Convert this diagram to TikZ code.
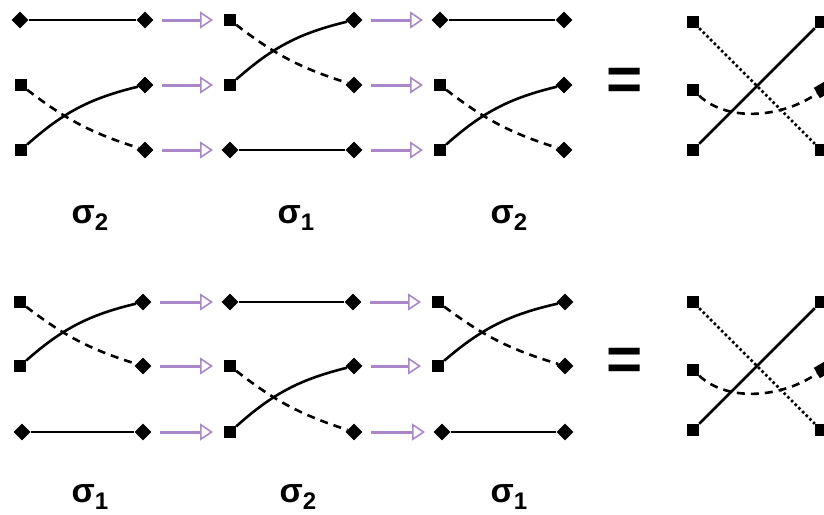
\documentclass[tikz,border=0pt]{standalone}
\usepackage{fontspec}
\setmainfont{Liberation Sans}
\usetikzlibrary{arrows.meta, shapes.geometric}
\definecolor{lilac}{RGB}{170,135,200}

\newcommand{\sig}[1]{\bfseries\fontsize{34}{34}\selectfont σ\raisebox{-7pt}{\fontsize{24}{24}\selectfont #1}}

\begin{document}
\begin{tikzpicture}[x=1pt, y=-1pt,
  sq/.style={rectangle, fill=black, minimum size=12pt, inner sep=0pt},
  dm/.style={diamond, fill=black, minimum size=17pt, inner sep=0pt},
  strand/.style={line width=2.6pt},
  dsh/.style={strand, dash pattern=on 8pt off 6pt},
  dots/.style={line width=2.8pt, dash pattern=on 2.6pt off 2.6pt},
  imp/.style={draw=lilac, line width=3pt,
    -{Triangle[open, length=13pt, width=17pt, line width=1.6pt]},
    shorten <=17pt, shorten >=17pt}]
  \useasboundingbox (0,0) rectangle (824,514);

  % top row: sigma_2 sigma_1 sigma_2
  \node[dm] (A-l1) at (20,20) {};  \node[dm] (A-r1) at (145,20) {};
  \node[sq] (A-l2) at (21,85) {};  \node[dm] (A-r2) at (145,85) {};
  \node[sq] (A-l3) at (21,150) {}; \node[dm] (A-r3) at (145,150) {};
  \draw[strand] (A-l1) -- (A-r1);
  \draw[strand] (A-l3) to[bend left=14] (A-r2);
  \draw[dsh] (A-l2) to[bend right=10] (A-r3);

  \node[sq] (B-l1) at (230,20) {};  \node[dm] (B-r1) at (354,20) {};
  \node[sq] (B-l2) at (230,85) {};  \node[dm] (B-r2) at (354,85) {};
  \node[dm] (B-l3) at (230,150) {}; \node[dm] (B-r3) at (354,150) {};
  \draw[strand] (B-l3) -- (B-r3);
  \draw[strand] (B-l2) to[bend left=14] (B-r1);
  \draw[dsh] (B-l1) to[bend right=10] (B-r2);

  \node[dm] (C-l1) at (440,20) {};  \node[dm] (C-r1) at (564,20) {};
  \node[sq] (C-l2) at (440,85) {};  \node[dm] (C-r2) at (564,85) {};
  \node[sq] (C-l3) at (440,150) {}; \node[dm] (C-r3) at (564,150) {};
  \draw[strand] (C-l1) -- (C-r1);
  \draw[strand] (C-l3) to[bend left=14] (C-r2);
  \draw[dsh] (C-l2) to[bend right=10] (C-r3);

  \node[font=\bfseries\fontsize{62}{62}\selectfont] (eq-top) at (625,84) {=};
  \node[sq] (D-l1) at (693,22) {};  \node[sq] (D-r1) at (821,22) {};
  \node[sq] (D-l2) at (693,90) {};  \node[sq, rotate=30] (D-r2) at (822,90) {};
  \node[sq] (D-l3) at (693,150) {}; \node[sq] (D-r3) at (821,150) {};
  \draw[strand] (D-l3) -- (D-r1);
  \draw[dots] (D-l1) -- (D-r3);
  \draw[dsh] (D-l2) .. controls (730,124) and (785,116) .. (D-r2);

  % bottom row: sigma_1 sigma_2 sigma_1
  \node[sq] (E-l1) at (20,302) {};  \node[dm] (E-r1) at (143,302) {};
  \node[sq] (E-l2) at (20,366) {};  \node[dm] (E-r2) at (143,366) {};
  \node[dm] (E-l3) at (22,432) {};  \node[dm] (E-r3) at (143,432) {};
  \draw[strand] (E-l3) -- (E-r3);
  \draw[strand] (E-l2) to[bend left=14] (E-r1);
  \draw[dsh] (E-l1) to[bend right=10] (E-r2);

  \node[dm] (F-l1) at (230,302) {}; \node[dm] (F-r1) at (353,302) {};
  \node[sq] (F-l2) at (230,366) {}; \node[dm] (F-r2) at (354,366) {};
  \node[sq] (F-l3) at (230,432) {}; \node[dm] (F-r3) at (354,432) {};
  \draw[strand] (F-l1) -- (F-r1);
  \draw[strand] (F-l3) to[bend left=14] (F-r2);
  \draw[dsh] (F-l2) to[bend right=10] (F-r3);

  \node[sq] (G-l1) at (438,302) {}; \node[dm] (G-r1) at (565,302) {};
  \node[sq] (G-l2) at (438,366) {}; \node[dm] (G-r2) at (565,366) {};
  \node[dm] (G-l3) at (442,432) {}; \node[dm] (G-r3) at (565,432) {};
  \draw[strand] (G-l3) -- (G-r3);
  \draw[strand] (G-l2) to[bend left=14] (G-r1);
  \draw[dsh] (G-l1) to[bend right=10] (G-r2);

  \node[font=\bfseries\fontsize{62}{62}\selectfont] (eq-bot) at (625,364) {=};
  \node[sq] (H-l1) at (693,302) {}; \node[sq] (H-r1) at (821,302) {};
  \node[sq] (H-l2) at (693,370) {}; \node[sq, rotate=30] (H-r2) at (822,370) {};
  \node[sq] (H-l3) at (693,430) {}; \node[sq] (H-r3) at (821,430) {};
  \draw[strand] (H-l3) -- (H-r1);
  \draw[dots] (H-l1) -- (H-r3);
  \draw[dsh] (H-l2) .. controls (730,404) and (785,396) .. (H-r2);

  % arrows between the steps
  \foreach \p/\q in {A/B, B/C, E/F, F/G}
    \foreach \i in {1,2,3}
      \draw[imp] (\p-r\i.center) -- (\q-l\i.center);

  % labels
  \node (lab-A) at (90,218) {\sig{2}};
  \node (lab-B) at (296,218) {\sig{1}};
  \node (lab-C) at (509,218) {\sig{2}};
  \node (lab-E) at (90,497) {\sig{1}};
  \node (lab-F) at (298,497) {\sig{2}};
  \node (lab-G) at (509,497) {\sig{1}};
\end{tikzpicture}
\end{document}
